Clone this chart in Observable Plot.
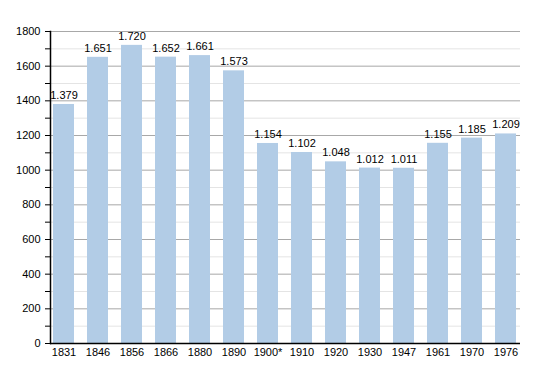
<!DOCTYPE html>
<html><head><meta charset="utf-8">
<script src="https://cdn.jsdelivr.net/npm/d3@7"></script>
<script src="https://cdn.jsdelivr.net/npm/@observablehq/plot@0.6"></script>
<style>body{margin:0;background:#fff}</style>
</head><body><div id="chart"></div>
<script>
const years = ["1831","1846","1856","1866","1880","1890","1900*","1910","1920","1930","1947","1961","1970","1976"];
const population = [1379,1651,1720,1652,1661,1573,1154,1102,1048,1012,1011,1155,1185,1209];
const majorTicks = [0,200,400,600,800,1000,1200,1400,1600,1800];
const minorTicks = [100,300,500,700,900,1100,1300,1500,1700];

const data = years.map((y,i)=>({year:y, value:population[i]}));
const fmt = d3.formatLocale({decimal:",", thousands:".", grouping:[3], currency:["",""]}).format(",");

const chart = Plot.plot({
  width: 550, height: 373,
  marginLeft: 50, marginRight: 30, marginTop: 31, marginBottom: 30,
  style: {fontFamily: "Liberation Sans, Arial, sans-serif", fontSize: "11px", color: "#000", background: "#fff"},
  x: {domain: years, paddingInner: 0.38, paddingOuter: 0, label: null},
  y: {domain: [0,1800], label: null},
  marks: [
    Plot.ruleY(minorTicks, {stroke: "#e4e4e4", strokeOpacity: 1}),
    Plot.ruleY(majorTicks.filter(d=>d>0), {stroke: "#a8a8a8", strokeOpacity: 1}),
    Plot.barY(data, {x: "year", y: "value", fill: "#b2cce6"}),
    Plot.text(data, {x: "year", y: "value", text: d=>fmt(d.value), dy: -9, fill: "#000", fontSize: 11}),
    Plot.axisY({ticks: majorTicks, tickSize: 5, tickPadding: 5, tickFormat: d=>String(d), stroke:"#000", fontSize: 11}),
    Plot.axisY({ticks: minorTicks, tickSize: 5, tickFormat: null, text: null, stroke:"#000"}),
    Plot.axisX({tickSize: 0, tickPadding: 5, fontSize: 11}),
    Plot.frame({anchor: "left", stroke: "#000", strokeWidth: 1.5}),
    Plot.ruleY([0], {stroke: "#000", strokeWidth: 1.5})
  ]
});
document.getElementById("chart").appendChild(chart);
</script></body></html>
